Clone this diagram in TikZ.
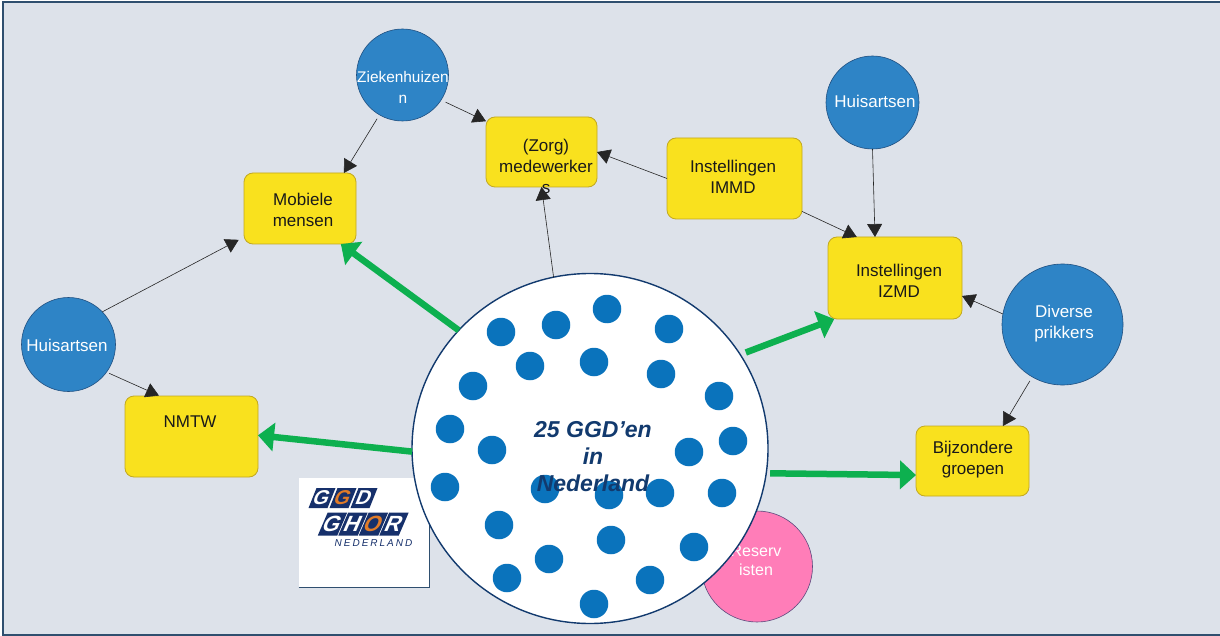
\documentclass[tikz,border=0pt]{standalone}
\usepackage{fontspec}
\setmainfont{Liberation Sans}
\usetikzlibrary{arrows.meta,shapes.geometric}
\definecolor{bgc}{HTML}{DDE2EA}
\definecolor{framec}{HTML}{2F4F6F}
\definecolor{bluec}{HTML}{2E84C6}
\definecolor{blueb}{HTML}{1F4F80}
\definecolor{dotc}{HTML}{0A73BC}
\definecolor{yelc}{HTML}{F9E11E}
\definecolor{yelb}{HTML}{C2A820}
\definecolor{pinkc}{HTML}{FF7DB8}
\definecolor{pinkb}{HTML}{5B4A7D}
\definecolor{navyc}{HTML}{123A6E}
\definecolor{greenc}{HTML}{0DB04F}
\definecolor{tilec}{HTML}{16306B}
\definecolor{orangec}{HTML}{E07B28}
\tikzset{
  x=1pt,y=-1pt,
  every node/.style={outer sep=0pt,inner sep=0pt},
  ybox/.style={draw=yelb,fill=yelc,line width=0.8pt,rounded corners=9pt,rectangle},
  bcirc/.style={draw=blueb,fill=bluec,line width=0.6pt,circle},
  txt/.style={font=\fontsize{17}{21}\selectfont,align=center,text=black!90},
  wtxt/.style={font=\fontsize{17}{21}\selectfont,align=center,text=white},
  dotn/.style={circle,fill=dotc,minimum size=28.5pt},
  thin arrow/.style={draw=black!85,line width=0.6pt,-{Triangle[length=13pt,width=15pt]}},
  green arrow/.style={draw=greenc,line width=6.5pt,-{Triangle[length=16pt,width=28pt]}},
  tile/.style={fill=tilec,rectangle,font=\bfseries\fontsize{20}{20}\selectfont,text=white,anchor=center},
  tileb/.style={tile,font=\bfseries\fontsize{22}{22}\selectfont},
}
\begin{document}
\begin{tikzpicture}
\useasboundingbox (0,0) rectangle (1220,636);
\fill[white] (0,0) rectangle (1220,636);
\fill[bgc] (3,2) rectangle (1220,635);
\draw[framec,line width=1.4pt] (1220,2) -- (3,2) -- (3,635) -- (1220,635);

% logo
\node[fill=white,minimum width=131pt,minimum height=109pt] (logo) at (364,532.5) {};
\draw[framec,line width=0.7pt] (logo.south west) -- (logo.south east) -- (logo.north east);
\node[tile,xslant=0.4,minimum width=19pt,minimum height=20pt] (l1) at (322,498) {G};
\node[tile,xslant=0.4,minimum width=19pt,minimum height=20pt,text=orangec] (l2) at (343,498) {G};
\node[tile,xslant=0.4,minimum width=19pt,minimum height=20pt] (l3) at (364,498) {D};
\node[tileb,xslant=0.43,minimum width=19.5pt,minimum height=23pt] (l4) at (332.5,524) {G};
\node[tileb,xslant=0.43,minimum width=19.5pt,minimum height=23pt] (l5) at (353,524) {H};
\node[tileb,xslant=0.43,minimum width=19.5pt,minimum height=23pt,text=orangec] (l6) at (373.5,524) {O};
\node[tileb,xslant=0.43,minimum width=19.5pt,minimum height=23pt] (l7) at (394,524) {R};
\node[font=\itshape\fontsize{10}{10}\selectfont,text=tilec] (l8) at (373.5,543) {\addfontfeature{LetterSpace=20}NEDERLAND};

% pink circle
\node[circle,draw=pinkb,fill=pinkc,line width=0.6pt,minimum size=111pt] (res) at (757,566.5) {};
\node[font=\fontsize{16}{19}\selectfont,align=center,text=white] (restxt) at (756,560.5) {Reserv\\isten};

% big circle
\node[ellipse,draw=navyc,fill=white,line width=1.4pt,minimum width=356pt,minimum height=350pt] (big) at (590,448.5) {};
\foreach \i/\px/\py in {1/501/332,2/556/325,3/607/309,4/669/329,5/530/366,6/594/362,7/661/374,8/473/386,9/719/396,10/450/429,11/492/450,12/689/452,13/733/441,14/445/487,15/545/489,16/609/495,17/660/493,18/722/493,19/499/525,20/611/540,21/694/547,22/549/559,23/507/578,24/650/580,25/594/604}
  \node[dotn] (d\i) at (\px,\py) {};
\node[font=\bfseries\itshape\fontsize{23}{27}\selectfont,align=center,text=navyc] (bigtxt) at (593,456.5) {25 GGD’en\\in\\Nederland};

% yellow boxes
\node[ybox,minimum width=112pt,minimum height=71pt] (mob) at (300,208.5) {};
\node[txt] (mobt) at (303,210) {Mobiele\\mensen};
\node[ybox,minimum width=111pt,minimum height=70pt] (zorg) at (541.5,152) {};
\node[txt] (zorgt) at (546,166.5) {(Zorg)\\medewerker\\s};
\node[ybox,minimum width=135pt,minimum height=81pt] (immd) at (734.5,178.5) {};
\node[txt] (immdt) at (733,177) {Instellingen\\IMMD};
\node[ybox,minimum width=134pt,minimum height=82pt] (izmd) at (895,278) {};
\node[txt] (izmdt) at (899,281) {Instellingen\\IZMD};
\node[ybox,minimum width=113pt,minimum height=70pt] (bij) at (972.5,461) {};
\node[txt] (bijt) at (973,460) {Bijzondere\\groepen};
\node[ybox,minimum width=133pt,minimum height=81pt] (nmtw) at (191.5,436.5) {};
\node[txt] (nmtwt) at (190,422) {NMTW};

% blue circles
\node[bcirc,minimum size=92pt] (hz) at (402.5,75) {};
\node[wtxt,font=\fontsize{15.4}{21}\selectfont] (hzt) at (403,87.5) {Ziekenhuizen\\n};
\node[bcirc,minimum size=93pt] (hr) at (872.5,102.5) {};
\node[wtxt] (hrt) at (875,101) {Huisartsen};
\node[bcirc,minimum size=121pt] (div) at (1062.5,324.5) {};
\node[wtxt] (divt) at (1064,324) {Diverse\\prikkers};
\node[bcirc,minimum size=94pt] (hl) at (68.5,344.5) {};
\node[wtxt] (hlt) at (67,345) {Huisartsen};

% thin connectors
\draw[thin arrow,shorten <=4.6pt] (hz.240) -- (mob.39.5);
\draw[thin arrow,shorten <=5pt] (hz.-33.4) -- (zorg.151.6);
\draw[thin arrow] (immd.180) -- (zorg.0);
\draw[thin arrow] (immd.-26.4) -- (izmd.133.6);
\draw[thin arrow] (hr.south) -- (izmd.116);
\draw[thin arrow] (div.170.2) -- (izmd.-15);
\draw[thin arrow,shorten <=4.7pt] (div.240) -- (bij.49);
\draw[thin arrow,shorten >=6pt] (hl.44.6) -- (mob.207.8);
\draw[thin arrow,shorten <=3pt,shorten >=1pt] (hl.-36) -- (nmtw.128.3);
\draw[thin arrow] (big.102.9) -- (zorg.south);

% green connectors
\draw[green arrow] (big.138.1) -- (mob.-41.6);
\draw[green arrow,shorten <=6pt] (big.32.5) -- (izmd.214.4);
\draw[green arrow] (big.181.8) -- (nmtw.1.3);
\draw[green arrow,shorten <=4pt] (big.-8) -- (bij.194.9);
\end{tikzpicture}
\end{document}
